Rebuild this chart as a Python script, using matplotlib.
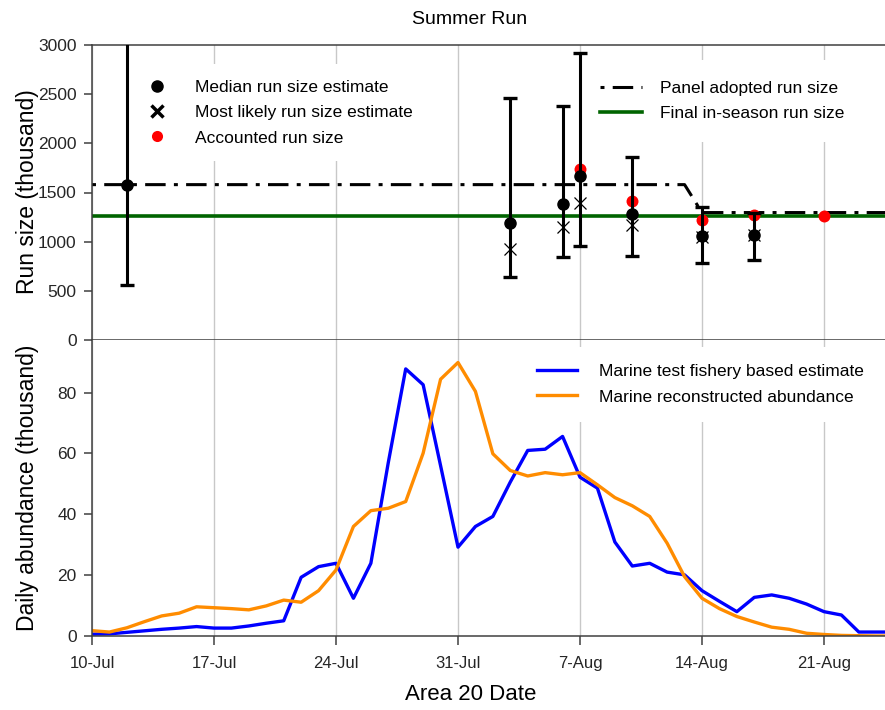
import numpy as np
import matplotlib
matplotlib.use("Agg")
import matplotlib.pyplot as plt
from matplotlib.lines import Line2D

plt.rcParams['font.family'] = ['Liberation Sans', 'DejaVu Sans']

# run size estimates by forecast date (thousand fish)
est_dates = np.array(['2023-07-12', '2023-08-03', '2023-08-06', '2023-08-07',
                      '2023-08-10', '2023-08-14', '2023-08-17'], dtype='datetime64[D]')
median = [1580, 1188, 1382, 1664, 1283, 1058, 1068]
likely = [np.nan, 922, 1147, 1392, 1171, 1051, 1066]
lower = [558, 642, 844, 956, 857, 786, 813]
upper = [3400, 2465, 2379, 2917, 1862, 1355, 1290]

acc_dates = np.array(['2023-08-07', '2023-08-10', '2023-08-14', '2023-08-17',
                      '2023-08-21'], dtype='datetime64[D]')
accounted = [1740, 1413, 1222, 1270, 1266]

panel_dates = np.array(['2023-07-10', '2023-08-13', '2023-08-14', '2023-08-25'],
                       dtype='datetime64[D]')
panel_size = [1580, 1580, 1296, 1296]
final_size = 1262

# daily abundance (thousand fish)
days = np.arange('2023-07-10', '2023-08-26', dtype='datetime64[D]')
test_fishery = [0.6, 0.7, 1.2, 1.7, 2.2, 2.6, 3.1, 2.6, 2.6, 3.3,
                4.2, 5.0, 19.3, 22.8, 23.9, 12.4, 23.9, 57.0, 87.8, 82.6,
                56.0, 29.2, 36.0, 39.3, 50.6, 61.0, 61.4, 65.6, 52.2, 48.6,
                30.9, 23.0, 23.9, 21.0, 20.1, 14.9, 11.4, 8.0, 12.7, 13.5,
                12.4, 10.5, 8.0, 6.9, 1.3, 1.3, 1.3]
reconstructed = [1.75, 1.3, 2.7, 4.7, 6.6, 7.5, 9.6, 9.3, 9.0, 8.6,
                 9.9, 11.8, 11.1, 14.9, 21.7, 36.0, 41.2, 42.0, 44.2, 60.1,
                 84.4, 89.9, 80.4, 59.9, 54.4, 52.6, 53.7, 53.0, 53.7, 49.7,
                 45.5, 42.8, 39.3, 30.5, 19.5, 12.4, 9.0, 6.4, 4.6, 2.9,
                 2.2, 0.9, 0.5, 0.2, 0.1, 0.0, 0.0]

tick_dates = np.array(['2023-07-10', '2023-07-17', '2023-07-24', '2023-07-31',
                       '2023-08-07', '2023-08-14', '2023-08-21'], dtype='datetime64[D]')
tick_labels = ['10-Jul', '17-Jul', '24-Jul', '31-Jul', '7-Aug', '14-Aug', '21-Aug']

W, H = 885, 710
fig = plt.figure(figsize=(W / 100, H / 100), dpi=100)
ax1 = fig.add_axes([92 / W, 1 - 340 / H, 793 / W, 295 / H])
ax2 = fig.add_axes([92 / W, 1 - 636 / H, 793 / W, 296 / H], sharex=ax1)

spine_col = '#404040'
for ax in (ax1, ax2):
    ax.grid(axis='x', color='#c8c8c8', lw=1)
    ax.spines['right'].set_visible(False)
    for s in ax.spines.values():
        s.set_color(spine_col)
        s.set_linewidth(1.1)
    ax.tick_params(axis='y', length=6, width=1.1, color=spine_col, pad=5,
                   labelsize=12.5, labelcolor='#262626')
    ax.tick_params(axis='x', length=6.5, width=1.1, color=spine_col, pad=8,
                   labelsize=12, labelcolor='#262626')
ax2.spines['top'].set_visible(False)

# top panel: run size
dash_dot = (0, (1.3, 2.7, 6.7, 2.7))
ax1.plot(panel_dates, panel_size, color='black', lw=2.2, ls=dash_dot, zorder=2)
ax1.axhline(final_size, color='#006400', lw=2.6, zorder=2)
ax1.plot(acc_dates, accounted, 'o', color='red', ms=8.6, mec='none', zorder=2.8)
ax1.plot(est_dates, likely, 'x', color='black', ms=9, mew=0.9, zorder=2.9)
med = np.array(median)
yerr = [med - np.array(lower), np.array(upper) - med]
ax1.errorbar(est_dates, med, yerr=yerr, fmt='o', color='black', ms=8,
             elinewidth=2.2, capsize=4.7, capthick=2.4, zorder=3)

ax1.set_ylim(0, 3000)
ax1.set_yticks(np.arange(0, 3001, 500))
ax1.tick_params(axis='x', bottom=False, labelbottom=False)

h_left = [Line2D([], [], ls='none', marker='o', color='black', ms=8),
          Line2D([], [], ls='none', marker='x', color='black', ms=9, mew=2.5),
          Line2D([], [], ls='none', marker='o', color='red', mec='none', ms=8)]
leg1 = ax1.legend(h_left, ['Median run size estimate', 'Most likely run size estimate',
                           'Accounted run size'],
                  loc='upper left', bbox_to_anchor=(0.0512, 0.9346), borderaxespad=0,
                  fontsize=12.5, handlelength=1.0, handletextpad=1.72,
                  labelspacing=0.58, borderpad=0.9, frameon=True, fancybox=False,
                  facecolor='white', edgecolor='none', framealpha=1)
leg1.set_zorder(2.5)
ax1.add_artist(leg1)

h_right = [Line2D([], [], color='black', lw=2.2, ls=dash_dot),
           Line2D([], [], color='#006400', lw=2.6)]
leg2 = ax1.legend(h_right, ['Panel adopted run size', 'Final in-season run size'],
                  loc='upper left', bbox_to_anchor=(0.6143, 0.9498), borderaxespad=0,
                  fontsize=12.5, handlelength=2.4, handletextpad=1.05,
                  labelspacing=0.59, borderpad=1.2, frameon=True, fancybox=False,
                  facecolor='white', edgecolor='none', framealpha=1)
leg2.set_zorder(2.5)

# bottom panel: daily abundance
ax2.plot(days, test_fishery, color='#0000ff', lw=2.4, zorder=2,
         label='Marine test fishery based estimate')
ax2.plot(days, reconstructed, color='#ff8c00', lw=2.4, zorder=2,
         label='Marine reconstructed abundance')
ax2.set_ylim(0, 97.3)
ax2.set_yticks(np.arange(0, 81, 20))
ax2.set_xticks(tick_dates)
ax2.set_xticklabels(tick_labels)
ax2.set_xlim(np.datetime64('2023-07-10'), np.datetime64('2023-08-24T12'))
leg3 = ax2.legend(loc='upper left', bbox_to_anchor=(0.5388, 0.9777), borderaxespad=0,
                  fontsize=12.5, handlelength=2.3, handletextpad=1.28,
                  labelspacing=0.59, borderpad=1.0, frameon=True, fancybox=False,
                  facecolor='white', edgecolor='none', framealpha=1)
leg3.set_zorder(2.5)

fig.text(470 / W, 1 - 19 / H, 'Summer Run', ha='center', va='center', fontsize=14)
fig.text(28 / W, 1 - 192 / H, 'Run size (thousand)', rotation=90,
         ha='center', va='center', fontsize=16.5)
fig.text(28 / W, 1 - 488 / H, 'Daily abundance (thousand)', rotation=90,
         ha='center', va='center', fontsize=16.5)
fig.text(471 / W, 1 - 694 / H, 'Area 20 Date', ha='center', va='center', fontsize=16)

fig.savefig('out.png', dpi=100)
